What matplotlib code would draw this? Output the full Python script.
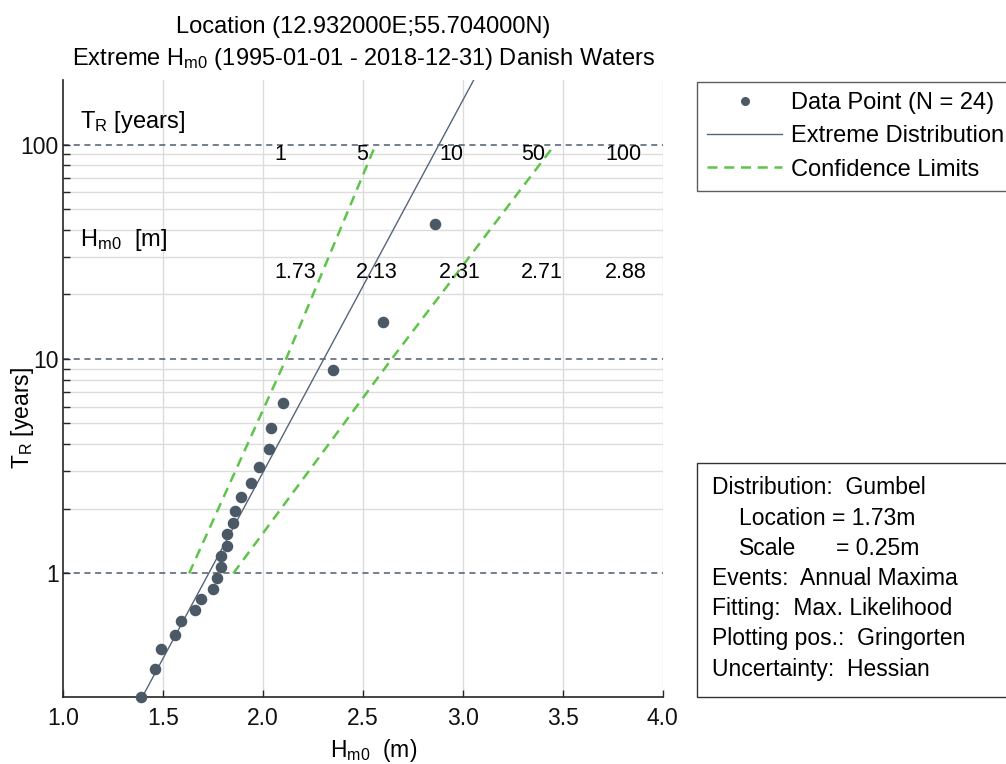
import matplotlib.pyplot as plt
from matplotlib.patches import Rectangle
from matplotlib.ticker import FixedLocator, NullFormatter

plt.rcParams['font.family'] = ['Liberation Sans', 'DejaVu Sans']
plt.rcParams['mathtext.default'] = 'regular'

# data
hm0 = [2.86, 2.60, 2.35, 2.10, 2.04, 2.03, 1.98, 1.94, 1.89, 1.86, 1.85, 1.82,
       1.82, 1.79, 1.79, 1.77, 1.75, 1.69, 1.66, 1.59, 1.56, 1.49, 1.46, 1.39]
t_r = [42.6, 14.9, 8.88, 6.25, 4.74, 3.80, 3.13, 2.64, 2.27, 1.96, 1.72, 1.52,
       1.34, 1.20, 1.07, 0.953, 0.849, 0.758, 0.675, 0.598, 0.515, 0.443, 0.359, 0.266]

dist_h = [1.398, 3.055]
dist_t = [0.265, 200]

ci_t = [1, 10, 100]
ci_low = [1.632, 2.117, 2.565]
ci_up = [1.853, 2.645, 3.461]

rp_labels = ['1', '5', '10', '50', '100']
rl_labels = ['1.73', '2.13', '2.31', '2.71', '2.88']

W, H = 1006, 764
def fx(px):
    return px / W
def fy(py):
    return 1 - py / H

fig = plt.figure(figsize=(10.06, 7.64), dpi=100)
ax = fig.add_axes([fx(62.7), fy(697), 600 / W, 617 / H])
ax.set_yscale('log')
ax.set_xlim(1, 4)
ax.set_ylim(0.265, 200)

# grid
minor = [2, 3, 4, 5, 6, 7, 8, 9, 20, 30, 40, 50, 60, 70, 80, 90]
for v in minor:
    ax.axhline(v, color='#dcdcdc', lw=1, zorder=0)
for v in [1.5, 2.0, 2.5, 3.0, 3.5, 4.0]:
    ax.axvline(v, color='#dcdcdc', lw=1, zorder=0)
for v in [1, 10, 100]:
    ax.axhline(v, color='#4e5d6e', lw=1.1, ls=(0, (4, 3)), zorder=1)

ax.plot(hm0, t_r, 'o', ms=7.3, color='#4b5966', clip_on=False, zorder=4,
        label='Data Point (N = 24)')
ax.plot(dist_h, dist_t, '-', color='#56657a', lw=1.0, zorder=3,
        label='Extreme Distribution')
ax.plot(ci_low, ci_t, ls=(0, (4, 2.7)), lw=1.8, color='#5fc44a', zorder=3,
        label='Confidence Limits')
ax.plot(ci_up, ci_t, ls=(0, (4, 2.7)), lw=1.8, color='#5fc44a', zorder=3)

# axes look
for s in ['top', 'right']:
    ax.spines[s].set_visible(False)
for s in ['left', 'bottom']:
    ax.spines[s].set_color('#262626')
    ax.spines[s].set_linewidth(1.2)

xt = [1.0, 1.5, 2.0, 2.5, 3.0, 3.5, 4.0]
ax.set_xticks(xt)
ax.set_xticklabels(['%.1f' % v for v in xt])
ax.yaxis.set_major_locator(FixedLocator([1, 10, 100]))
ax.yaxis.set_minor_locator(FixedLocator(minor))
ax.yaxis.set_minor_formatter(NullFormatter())
ax.set_yticklabels(['1', '10', '100'])
ax.tick_params(which='both', direction='in', length=5, width=1, color='#262626',
               labelsize=16.5, labelcolor='#111111')
ax.tick_params(axis='x', pad=7)
ax.tick_params(axis='y', pad=3)

# table inside the axes
ax.text((80 - 62.7) / 600, (697 - 122) / 617, 'T$_R$ [years]', transform=ax.transAxes,
        fontsize=17, va='center')
ax.text((80 - 62.7) / 600, (697 - 240) / 617, 'H$_{m0}$  [m]', transform=ax.transAxes,
        fontsize=17, va='center')
xs = [274, 356, 439, 521, 605]
for px, a, b in zip(xs, rp_labels, rl_labels):
    ax.text((px - 62.7) / 600, (697 - 155) / 617, a, transform=ax.transAxes,
            fontsize=15.5, va='center')
    ax.text((px - 62.7) / 600, (697 - 272) / 617, b, transform=ax.transAxes,
            fontsize=15.5, va='center')

# titles and labels
fig.text(fx(363), fy(27), 'Location (12.932000E;55.704000N)', fontsize=17,
         ha='center', va='center')
fig.text(fx(363), fy(59), 'Extreme H$_{m0}$ (1995-01-01 - 2018-12-31) Danish Waters',
         fontsize=17, ha='center', va='center')
fig.text(fx(22), fy(418), 'T$_R$ [years]', fontsize=16.5, rotation=90,
         ha='center', va='center')
fig.text(fx(374), fy(750), 'H$_{m0}$  (m)', fontsize=16.5, ha='center', va='center')

# legend (runs past the right edge, as in the original)
leg = fig.legend(loc='upper left', bbox_to_anchor=(fx(697), fy(82)),
                 fontsize=17, frameon=True, fancybox=False, borderaxespad=0,
                 handlelength=3.2, handletextpad=0.38, labelspacing=0.48,
                 borderpad=0.42, markerscale=0.75)
leg.get_frame().set_edgecolor('#333333')
leg.get_frame().set_linewidth(1)

# info box
fig.patches.append(Rectangle((fx(697), fy(697)), (1015 - 697) / W, (697 - 463) / H,
                             transform=fig.transFigure, facecolor='white',
                             edgecolor='#333333', lw=1))
box_rows = [(712, 'Distribution:  Gumbel'), (739, 'Location = 1.73m'),
            (739, 'Scale'), (712, 'Events:  Annual Maxima'),
            (712, 'Fitting:  Max. Likelihood'), (712, 'Plotting pos.:  Gringorten'),
            (712, 'Uncertainty:  Hessian')]
for i, (px, line) in enumerate(box_rows):
    fig.text(fx(px), fy(488 + 30.2 * i), line, fontsize=16.5, va='center')
fig.text(fx(836), fy(488 + 30.2 * 2), '= 0.25m', fontsize=16.5, va='center')

fig.savefig('out.png', dpi=100)
